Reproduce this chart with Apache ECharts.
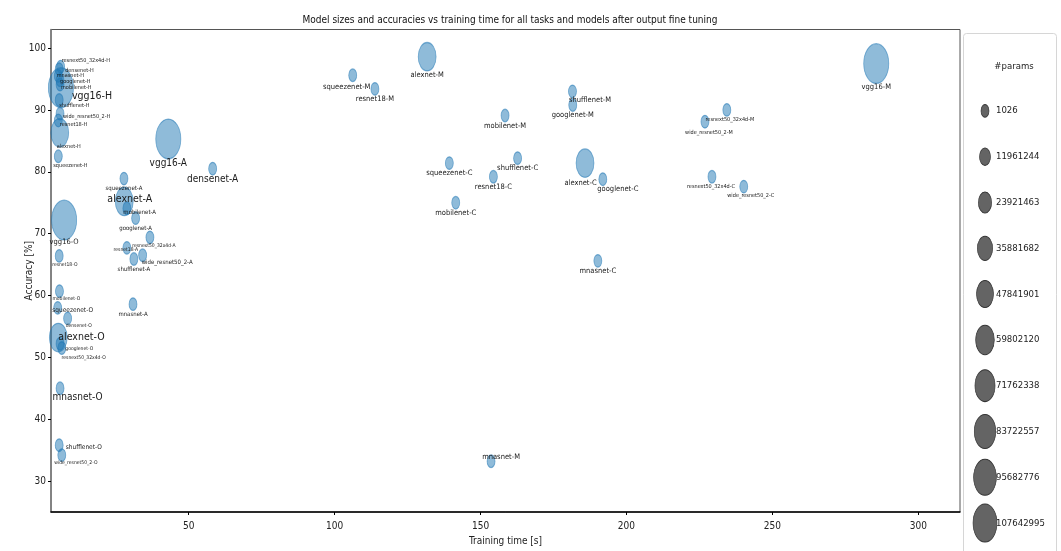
<!DOCTYPE html>
<html>
<head>
<meta charset="utf-8">
<title>Model sizes and accuracies vs training time</title>
<script src="https://cdn.jsdelivr.net/npm/echarts@6/dist/echarts.min.js"></script>
<style>
  html, body { margin: 0; padding: 0; background: #fff; }
  #chart { width: 1061px; height: 551px; }
</style>
</head>
<body>
<div id="chart"></div>
<script>
// models, same order in every task array below
const models = ['alexnet', 'vgg16', 'resnet18', 'squeezenet', 'densenet', 'googlenet',
  'shufflenet', 'mobilenet', 'resnext50_32x4d', 'wide_resnet50_2', 'mnasnet']
// trainable params after output fine tuning (classifier only)
const params = [54530000, 119600000, 1026, 2000, 2050, 2050, 2050, 2562, 4098, 4098, 2562]

// training time [s] and accuracy [%] per task (null = not run)
const timeH = [5.8, 6.2, 5.3, 5.3, 5.6, 5.9, 5.6, 5.9, 6.1, 5.9, 5.3]
const accH = [86.3, 93.6, 88.3, 82.5, 96.6, 94.8, 91.6, 94.1, 97.0, 89.4, 95.5]
const timeM = [131.7, 285.6, 113.8, 106.2, null, 181.6, 181.5, 158.4, 234.4, 226.9, 153.6]
const accM = [98.6, 97.5, 93.4, 95.6, null, 90.8, 93.0, 89.1, 90.0, 88.1, 33.2]
const timeA = [27.9, 43.0, 28.8, 27.8, 58.2, 31.8, 31.2, 28.8, 36.7, 34.2, 30.9]
const accA = [75.2, 85.3, 67.7, 78.9, 80.5, 72.5, 65.9, 74.1, 69.4, 66.5, 58.6]
const timeC = [185.8, null, 154.4, 139.3, null, 191.9, 162.7, 141.5, 229.3, 240.2, 190.2]
const accC = [81.4, null, 79.2, 81.4, null, 78.8, 82.2, 75.0, 79.2, 77.6, 65.6]
const timeO = [5.3, 7.3, 5.6, 5.1, 8.5, 6.5, 5.6, 5.7, 5.9, 6.5, 5.9]
const accO = [53.2, 72.2, 66.4, 58.0, 56.3, 51.5, 35.8, 60.7, 52.2, 34.2, 45.0]

const xTicks = [50, 100, 150, 200, 250, 300]
const yTicks = [30, 40, 50, 60, 70, 80, 90, 100]
const legendValues = [1026, 11961244, 23921463, 35881682, 47841901, 59802120,
  71762338, 83722557, 95682776, 107642995]

const tasks = [['H', timeH, accH], ['M', timeM, accM], ['A', timeA, accA],
  ['C', timeC, accC], ['O', timeO, accO]]

const FONT = "'DejaVu Sans Condensed', 'Liberation Sans Narrow', 'DejaVu Sans', sans-serif"
const ELLIPSE = 'path://M0,10A10,10 0 1 1 20,10A10,10 0 1 1 0,10Z'

// bubble area grows linearly with #params (picture is squeezed horizontally)
function bubbleH(p) {
  return Math.sqrt(160 + 11.9 * p / 1e6)
}
function bubbleSize(val) {
  const h = bubbleH(val[2])
  return [h * 0.63, h]
}

// label font per task, plus the labels that sit somewhere else
const labelFont = { H: 5.5, M: 7.5, A: 6, C: 7.5, O: 5.5 }
const labelLook = {
  // name: [fontSize, dx, dy, align]
  'vgg16-H': [10.5, 11, 9, 'left'],
  'alexnet-H': [5.5, -3, 14, 'left'],
  'squeezenet-H': [5.5, -5, 9, 'left'],
  'resnext50_32x4d-H': [5.5, 1, -6.5, 'left'],
  'densenet-H': [5.5, 6, 1.5, 'left'],
  'mnasnet-H': [5.5, -1.5, 0, 'left'],
  'googlenet-H': [5.5, 0, 1.5, 'left'],
  'mobilenet-H': [5.5, 1, 3, 'left'],
  'shufflenet-H': [5.5, 0, 6, 'left'],
  'wide_resnet50_2-H': [5.5, 3, 2.5, 'left'],
  'resnet18-H': [5.5, 1.5, 4.5, 'left'],
  'squeezenet-M': [7.5, -6, 11.5, 'center'],
  'shufflenet-M': [7.5, -3.5, 8.5, 'left'],
  'mnasnet-M': [7.5, 10, -4, 'center'],
  'resnext50_32x4d-M': [5.5, 3, 10, 'center'],
  'wide_resnet50_2-M': [5.5, 4, 11, 'center'],
  'alexnet-C': [7.5, -4.5, 19.5, 'center'],
  'googlenet-C': [7.5, -5.5, 10, 'left'],
  'resnext50_32x4d-C': [5.5, -1, 10, 'center'],
  'wide_resnet50_2-C': [5.5, 7, 9, 'center'],
  'vgg16-A': [10, 0, 24.5, 'center'],
  'densenet-A': [10, 0, 10.5, 'center'],
  'alexnet-A': [10.5, 5.5, -2.5, 'center'],
  'mobilenet-A': [6, -3.5, 4, 'left'],
  'resnext50_32x4d-A': [5, 4, 8.5, 'center'],
  'resnet18-A': [5, -1, 1.5, 'center'],
  'wide_resnet50_2-A': [6, -1, 7.5, 'left'],
  'vgg16-O': [7.5, 0, 22.5, 'center'],
  'resnet18-O': [5, -7, 9, 'left'],
  'mobilenet-O': [5, -7, 8, 'left'],
  'squeezenet-O': [6.5, -5.5, 2.5, 'left'],
  'densenet-O': [5, -2, 7.5, 'left'],
  'alexnet-O': [10.5, 0, 0, 'left'],
  'googlenet-O': [5, 3.5, 1, 'left'],
  'resnext50_32x4d-O': [5, 1.5, 14, 'left'],
  'mnasnet-O': [10, -7.5, 9, 'left'],
  'shufflenet-O': [6.5, 6.5, 2.5, 'left'],
  'wide_resnet50_2-O': [5, -7.5, 7.5, 'left']
}

function pointLabel(name, task, p) {
  const look = labelLook[name]
  if (look) {
    return { fontSize: look[0], offset: [look[1], look[2]], align: look[3] }
  }
  return { fontSize: labelFont[task], offset: [0, bubbleH(p) / 2 + 4], align: 'center' }
}

const points = []
tasks.forEach(([task, times, accs]) => {
  models.forEach((m, i) => {
    if (times[i] == null) return
    const name = m + '-' + task
    points.push({
      name: name,
      value: [times[i], accs[i], params[i]],
      label: pointLabel(name, task, params[i])
    })
  })
})

const chart = echarts.init(document.getElementById('chart'))
chart.setOption({
  animation: false,
  backgroundColor: '#fff',
  textStyle: { fontFamily: FONT },
  title: [{
    text: 'Model sizes and accuracies vs training time for all tasks and models after output fine tuning',
    left: 505,
    top: 10,
    textAlign: 'center',
    textStyle: { fontSize: 10, fontWeight: 'normal', color: '#111', fontFamily: FONT }
  }, {
    text: '#params',
    left: 1009,
    top: 57,
    textAlign: 'center',
    textStyle: { fontSize: 9.5, fontWeight: 'normal', color: '#222', fontFamily: FONT }
  }],
  graphic: [{
    type: 'rect',
    left: 963,
    top: 33,
    z: -10,
    silent: true,
    shape: { width: 93, height: 540, r: 3 },
    style: { fill: '#fff', stroke: '#d6d6d6', lineWidth: 1 }
  }],
  grid: [{
    left: 51,
    top: 29.5,
    right: 101,
    bottom: 39,
    show: true,
    borderColor: '#555',
    borderWidth: 1
  }, {
    left: 977,
    top: 88,
    width: 16,
    height: 458
  }],
  xAxis: [{
    type: 'value',
    gridIndex: 0,
    min: 2.8,
    max: 314.3,
    name: 'Training time [s]',
    nameLocation: 'middle',
    nameGap: 24,
    nameMoveOverlap: false,
    nameTextStyle: { fontSize: 10, color: '#222', fontFamily: FONT },
    axisLine: { show: true, lineStyle: { color: '#000', width: 1.5 } },
    axisTick: { show: true, length: 3, customValues: xTicks, lineStyle: { color: '#000' } },
    axisLabel: { customValues: xTicks, fontSize: 10, color: '#222', margin: 9, fontFamily: FONT },
    splitLine: { show: false }
  }, {
    type: 'value',
    gridIndex: 1,
    min: -1,
    max: 1,
    show: false
  }],
  yAxis: [{
    type: 'value',
    gridIndex: 0,
    min: 25,
    max: 103,
    name: 'Accuracy [%]',
    nameLocation: 'middle',
    nameGap: 17,
    nameMoveOverlap: false,
    nameTextStyle: { fontSize: 10, color: '#222', fontFamily: FONT },
    axisLine: { show: true, lineStyle: { color: '#777', width: 1.5 } },
    axisTick: { show: true, length: 3, customValues: yTicks, lineStyle: { color: '#000' } },
    axisLabel: { customValues: yTicks, fontSize: 10, color: '#222', margin: 5, fontFamily: FONT },
    splitLine: { show: false }
  }, {
    type: 'category',
    gridIndex: 1,
    position: 'right',
    inverse: true,
    data: legendValues.map(String),
    axisLine: { show: false },
    axisTick: { show: false },
    axisLabel: { fontSize: 9.5, color: '#222', margin: 3, fontFamily: FONT },
    splitLine: { show: false }
  }],
  series: [{
    type: 'scatter',
    xAxisIndex: 0,
    yAxisIndex: 0,
    symbol: ELLIPSE,
    symbolSize: bubbleSize,
    itemStyle: {
      color: 'rgba(31,119,180,0.5)',
      borderColor: 'rgba(31,119,180,0.55)',
      borderWidth: 1,
      opacity: 1
    },
    label: {
      show: true,
      position: 'inside',
      formatter: '{b}',
      color: '#1a1a1a',
      fontFamily: FONT
    },
    emphasis: { disabled: true },
    data: points
  }, {
    // size legend
    type: 'scatter',
    xAxisIndex: 1,
    yAxisIndex: 1,
    symbol: ELLIPSE,
    symbolSize: bubbleSize,
    itemStyle: { color: '#646464', borderColor: '#333', borderWidth: 0.8, opacity: 1 },
    emphasis: { disabled: true },
    data: legendValues.map(v => [0, String(v), v])
  }]
})
</script>
</body>
</html>
